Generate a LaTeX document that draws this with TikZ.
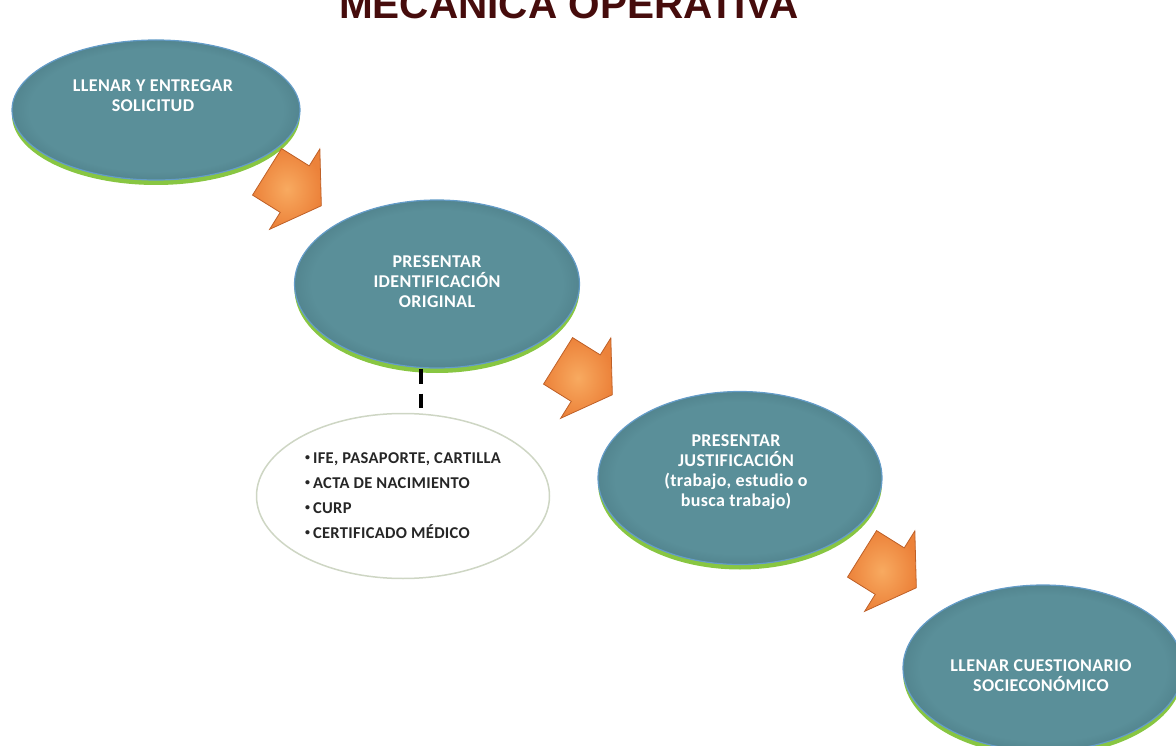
\documentclass[tikz,border=0pt]{standalone}
\usepackage{fontspec}
\setmainfont{Carlito}
\newfontfamily\titlefont{Liberation Sans}
\newfontfamily\spacedfont{Carlito}[LetterSpace=2]
\usetikzlibrary{shapes.geometric,shapes.arrows,calc}

\definecolor{stepmid}{RGB}{90,143,153}
\definecolor{stepdark}{RGB}{56,98,108}
\definecolor{rimgreen}{RGB}{136,198,66}
\definecolor{topblue}{RGB}{100,156,200}
\definecolor{arrowlight}{RGB}{248,170,96}
\definecolor{arroworange}{RGB}{236,130,58}
\definecolor{arrowedge}{RGB}{190,96,40}
\definecolor{docline}{RGB}{206,214,196}
\definecolor{titlered}{RGB}{70,12,12}

\pgfdeclareradialshading{steplook}{\pgfpoint{0bp}{0bp}}{color(0bp)=(stepmid); color(22bp)=(stepmid); color(36bp)=(stepdark); color(50bp)=(stepdark)}

\newcommand{\docitem}{\raisebox{3.5pt}{\scalebox{0.6}{\textbullet}}\hspace{3pt}}

\tikzstyle{stepbox}=[ellipse,draw=topblue,line width=1.2pt,shading=steplook,
  preaction={fill=rimgreen,transform canvas={yshift=-5pt}}]
\tikzstyle{steptext}=[text=white,align=center,font=\spacedfont\bfseries\fontsize{18}{20}\selectfont]
\tikzstyle{flowarrow}=[single arrow,rotate=-32,inner color=arrowlight,outer color=arroworange,draw=arrowedge,line width=0.8pt,
  inner xsep=0pt,inner ysep=27pt,minimum height=64pt,single arrow head extend=20pt,single arrow tip angle=113]
\tikzstyle{docbox}=[ellipse,draw=docline,line width=1.5pt,fill=white,align=left,text=black!85,
  font=\spacedfont\bfseries\fontsize{16.5}{25}\selectfont]
\tikzstyle{linkdash}=[line width=3.5pt,dash pattern=on 15pt off 10pt,shorten >=5pt]

\begin{document}
\begin{tikzpicture}[x=1pt,y=-1pt,inner sep=1pt]
\useasboundingbox (0,0) rectangle (1176,746);
\clip (0,0) rectangle (1176,746);
%\draw[help lines,step=50] (0,0) grid (1176,746);
\node[font=\titlefont\bfseries\fontsize{40.5}{44}\selectfont,text=titlered,anchor=base] (title) at (569,19) {MECÁNICA OPERATIVA};
\node[stepbox,minimum width=288pt,minimum height=140pt] (e1) at (156,110) {};
\node[stepbox,minimum width=285pt,minimum height=168pt] (e2) at (437,284) {};
\node[stepbox,minimum width=284pt,minimum height=173pt] (e3) at (740,478) {};
\node[stepbox,minimum width=280pt,minimum height=166pt] (e4) at (1043,668) {};
\node[steptext] (t1) at (153,96) {LLENAR Y ENTREGAR\\SOLICITUD};
\node[steptext] (t2) at (437,282) {PRESENTAR\\IDENTIFICACIÓN\\ORIGINAL};
\node[steptext] (t3) at (736,472) {PRESENTAR\\JUSTIFICACIÓN\\(trabajo, estudio o\\busca trabajo)};
\node[steptext] (t4) at (1041,676) {LLENAR CUESTIONARIO\\SOCIECONÓMICO};
\node[flowarrow] (a1) at ([xshift=-10pt,yshift=13pt]$(e1)!0.5!(e2)$) {};
\node[flowarrow] (a2) at ([xshift=-11pt,yshift=8pt]$(e2)!0.5!(e3)$) {};
\node[flowarrow] (a3) at ([xshift=-10pt,yshift=7pt]$(e3)!0.5!(e4)$) {};
\node[docbox,minimum width=293pt,minimum height=165pt] (docs) at (403,496)
  {\docitem IFE, PASAPORTE, CARTILLA\\\docitem ACTA DE NACIMIENTO\\\docitem CURP\\\docitem CERTIFICADO MÉDICO};
\draw[linkdash] ([xshift=-16pt]e2.south) -- ([xshift=-16pt]e2.south |- docs.north);
\end{tikzpicture}
\end{document}
